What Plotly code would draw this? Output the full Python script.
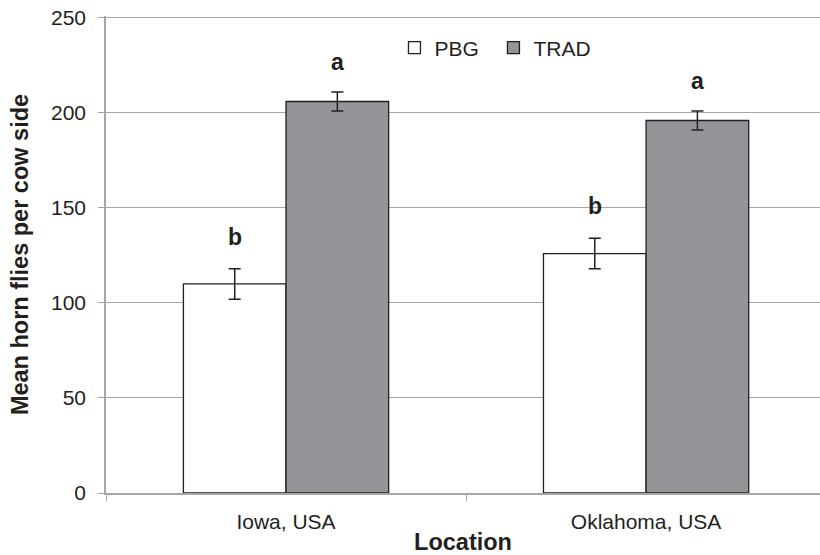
import plotly.graph_objects as go

categories = ["Iowa, USA", "Oklahoma, USA"]
pbg = [110, 126]
pbg_err = [8, 8]
trad = [206, 196]
trad_err = [5, 5]
pbg_letters = ["b", "b"]
trad_letters = ["a", "a"]
y_ticks = [0, 50, 100, 150, 200, 250]

fig = go.Figure()
fig.add_trace(go.Bar(
    x=categories, y=pbg, name="PBG",
    marker=dict(color="white", line=dict(color="#231f20", width=1.3)),
    error_y=dict(type="data", array=pbg_err, color="#231f20", thickness=1.5, width=6),
))
fig.add_trace(go.Bar(
    x=categories, y=trad, name="TRAD",
    marker=dict(color="#939598", line=dict(color="#231f20", width=1.3)),
    error_y=dict(type="data", array=trad_err, color="#231f20", thickness=1.5, width=6),
))

offsets = [-0.1425, 0.1425]
for i, c in enumerate(categories):
    fig.add_annotation(x=i + offsets[0], y=pbg[i] + pbg_err[i], text="<b>%s</b>" % pbg_letters[i],
                       showarrow=False, yshift=32, xref="x", yref="y",
                       font=dict(size=23, color="#231f20"))
    fig.add_annotation(x=i + offsets[1], y=trad[i] + trad_err[i], text="<b>%s</b>" % trad_letters[i],
                       showarrow=False, yshift=30, xref="x", yref="y",
                       font=dict(size=23, color="#231f20"))

fig.update_layout(
    width=820, height=555,
    margin=dict(l=106, r=0, t=16, b=62, autoexpand=False),
    paper_bgcolor="white", plot_bgcolor="white",
    font=dict(family="Liberation Sans, Arial, sans-serif", size=21, color="#231f20"),
    barmode="group", bargap=0.43, bargroupgap=0,
    showlegend=True,
    legend=dict(orientation="h", x=0.404, y=0.933, xanchor="left", yanchor="middle",
                font=dict(size=21), bgcolor="rgba(0,0,0,0)", itemwidth=30,
                entrywidth=54, traceorder="normal"),
    xaxis=dict(
        range=[-0.5, 1.483], automargin=False,
        showline=True, linecolor="#a6a6a6", linewidth=1.5,
        ticks="outside", tickson="boundaries", ticklen=6, tickcolor="#a6a6a6",
        ticklabelstandoff=9, ticklabeloverflow="allow",
        showgrid=False, zeroline=False,
        title=dict(text="<b>Location</b>", font=dict(size=23.5), standoff=8),
        tickfont=dict(size=21),
    ),
    yaxis=dict(
        range=[0, 251], tickvals=y_ticks, automargin=False,
        showline=True, linecolor="#a6a6a6", linewidth=1.5,
        ticks="outside", ticklen=6, tickcolor="#a6a6a6", ticklabelstandoff=8,
        ticklabeloverflow="allow",
        showgrid=True, gridcolor="#a6a6a6", gridwidth=1.2,
        zeroline=False,
        title=dict(text="<b>Mean horn flies per cow side</b>", font=dict(size=23.5), standoff=16),
        tickfont=dict(size=21),
    ),
)

fig.write_html("out.html", config={"displayModeBar": False},
               post_script="document.body.style.margin='0';")
